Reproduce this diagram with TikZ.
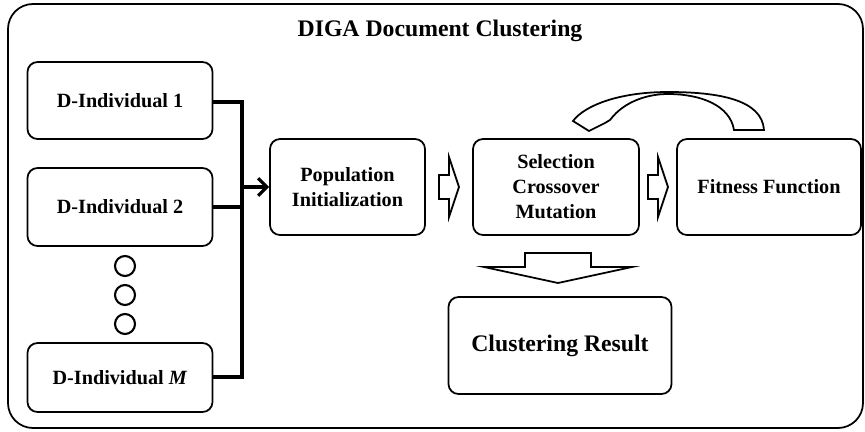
\documentclass[tikz,border=0pt]{standalone}
\usepackage{fontspec}
\setmainfont{Liberation Serif}
\usepackage{tikz}
\usetikzlibrary{positioning, calc, arrows.meta}

\begin{document}
\begin{tikzpicture}[x=0.2mm, y=-0.2mm,
                    box/.style={draw, rounded corners=2mm, line width=1pt, align=center,
                                font=\fontsize{11.5}{14.2}\selectfont\bfseries},
                    bus/.style={line width=1.8pt},
                    hollow/.style={draw, line width=1pt, fill=white, line join=miter}]
                    \useasboundingbox (0,0) rectangle (865,432);

                    % outer frame and title
                    \draw[line width=1pt, rounded corners=5mm] (8,4) rectangle (863,428);
                    \node[font=\fontsize{13.5}{16}\selectfont\bfseries] (title) at (440,31) {DIGA Document Clustering};

                    % individuals
                    \node[box, minimum width=3.7cm, minimum height=1.54cm] (ind1) at (120,100.5) {D-Individual 1};
                    \node[box, minimum width=3.7cm, minimum height=1.56cm] (ind2) at (120,207) {D-Individual 2};
                    \node[box, minimum width=3.7cm, minimum height=1.38cm] (indM) at (120,377.5) {D-Individual \textit{M}};
                    \foreach \i/\y in {1/266, 2/295, 3/324}
                        \node[draw, circle, line width=1.2pt, minimum size=4mm, inner sep=0pt] (dot\i) at (125,\y) {};

                    % steps of the algorithm
                    \node[box, minimum width=3.1cm, minimum height=1.92cm] (pop) at (347.5,187) {Population\\Initialization};
                    \node[box, minimum width=3.32cm, minimum height=1.92cm] (sel) at (556,187) {Selection\\Crossover\\Mutation};
                    \node[box, minimum width=3.68cm, minimum height=1.92cm] (fit) at (769,187) {Fitness Function};
                    \node[box, minimum width=4.46cm, minimum height=1.94cm,
                          font=\fontsize{13.5}{16}\selectfont\bfseries] (res) at (560,345.5) {Clustering Result};

                    % bus into the population
                    \coordinate (bt) at (242,102);
                    \coordinate (bb) at (242,377);
                    \draw[bus] (ind1.east |- bt) -- (bt) -- (bb) -- (indM.east |- bb);
                    \draw[bus] (ind2.east) -- (ind2.east -| bt);
                    \draw[bus, -{Straight Barb[length=5pt, width=10pt]}] (pop.west -| bt) -- (pop.west);

                    % hollow arrows
                    \coordinate (a1) at ($(pop.east)!0.5!(sel.west)$);
                    \coordinate (a2) at ($(sel.east)!0.5!(fit.west)$);
                    \foreach \c in {a1, a2}
                        \draw[hollow] ($(\c)+(-10,-12)$) -- ++(10,0) -- ++(0,-18) -- ++(10,30)
                                      -- ++(-10,30) -- ++(0,-18) -- ++(-10,0) -- cycle;
                    \coordinate (a3) at ($(sel.south)!0.5!(res.north)$);
                    \draw[hollow] ($(a3)+(-33,-13)$) -- ++(66,0) -- ++(0,14) -- ++(41,0)
                                  -- ++(-74,16) -- ++(-74,-16) -- ++(41,0) -- cycle;

                    % curved arrow back from the fitness
                    \draw[hollow] (764,130) .. controls (762,100) and (720,92) .. (668,92)
                                  .. controls (620,92) and (585,105) .. (573,121)
                                  -- (589,131) -- (605,123) -- (610,120)
                                  .. controls (625,100) and (650,94) .. (668,94)
                                  .. controls (700,94) and (730,105) .. (734,130) -- cycle;
                 \end{tikzpicture}
\end{document}
